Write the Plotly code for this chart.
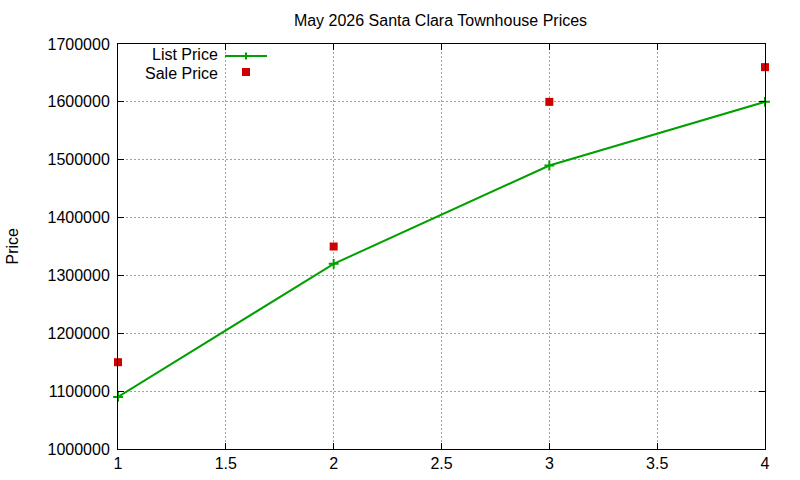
import plotly.graph_objects as go

# data
points = [1, 2, 3, 4]
list_price = [1090000, 1320000, 1490000, 1600000]
sale_price = [1150000, 1350000, 1600000, 1660000]

font = "Liberation Sans, Arial, sans-serif"
green = "#00a000"
red = "#cc0000"

# plot area in pixels (left, right, top, bottom)
L, R, T, B = 118, 765, 44, 449
W, H = 800, 480


def px(x):
    return (x - L) / (R - L)


def py(y):
    return (B - y) / (B - T)


fig = go.Figure()
fig.add_trace(go.Scatter(
    x=points, y=list_price, mode="lines+markers", name="List Price",
    line=dict(color=green, width=2),
    marker=dict(symbol="cross-thin", size=7, line=dict(color=green, width=2)),
    cliponaxis=False, showlegend=False,
))
fig.add_trace(go.Scatter(
    x=points, y=sale_price, mode="markers", name="Sale Price",
    marker=dict(symbol="square", size=8, color=red),
    cliponaxis=False, showlegend=False,
))

# gnuplot style key: text on the left, sample on the right
fig.add_annotation(x=px(219), y=py(55), xref="paper", yref="paper", text="List Price",
                   showarrow=False, xanchor="right", yanchor="middle", borderpad=0)
fig.add_annotation(x=px(219), y=py(73), xref="paper", yref="paper", text="Sale Price",
                   showarrow=False, xanchor="right", yanchor="middle", borderpad=0)
fig.add_shape(type="line", xref="paper", yref="paper", x0=px(225), x1=px(267),
              y0=py(56), y1=py(56), line=dict(color=green, width=2))
fig.add_shape(type="line", xref="paper", yref="paper", x0=px(246), x1=px(246),
              y0=py(52.5), y1=py(59.5), line=dict(color=green, width=2))
fig.add_shape(type="rect", xref="paper", yref="paper", x0=px(242), x1=px(250),
              y0=py(68), y1=py(76), line=dict(width=0), fillcolor=red)

fig.add_annotation(x=px(12), y=0.5, xref="paper", yref="paper", text="Price",
                   showarrow=False, textangle=-90, xanchor="center", yanchor="middle")

axis = dict(
    showline=True, linecolor="black", linewidth=1, mirror="ticks",
    ticks="inside", ticklen=6, tickcolor="black",
    showgrid=True, gridcolor="#a0a0a0", griddash="2px,2px", gridwidth=1,
    zeroline=False, automargin=False,
)
fig.update_xaxes(range=[1, 4], dtick=0.5, tick0=1, **axis)
fig.update_yaxes(range=[1000000, 1700000], dtick=100000, tickformat="d",
                 ticklabelstandoff=4, **axis)

fig.update_layout(
    width=W, height=H,
    margin=dict(l=L, r=W - R, t=T, b=H - B),
    paper_bgcolor="white", plot_bgcolor="white",
    font=dict(family=font, size=16, color="black"),
    title=dict(text="May 2026 Santa Clara Townhouse Prices", x=px(440.5), xref="paper",
               y=1 - 20 / H, yanchor="middle", font=dict(size=16)),
)

# no page margin, so the figure sits at the window's corner
fig.write_html("out.html", config={"displayModeBar": False},
               post_script="document.body.style.margin='0';")
